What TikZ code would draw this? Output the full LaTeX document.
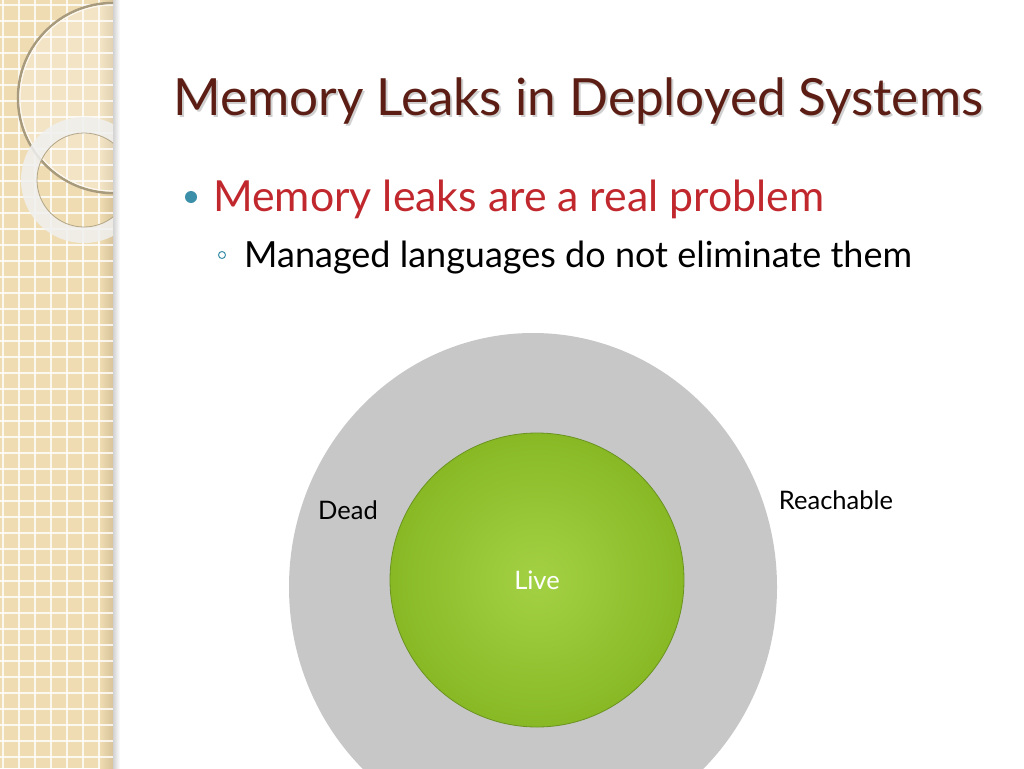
\documentclass[tikz,border=0pt]{standalone}
\usepackage{fontspec}
\setmainfont{Lato}
\usepackage{tikz}
\usetikzlibrary{shapes.geometric,positioning,shadings}
\usepackage{xcolor}

\definecolor{titlered}{HTML}{5C1E14}
\definecolor{bulletred}{HTML}{C1282E}
\definecolor{bulletteal}{HTML}{3B8FA9}
\definecolor{stripbeige}{HTML}{EFDCB2}
\definecolor{stripedge}{HTML}{D8C39A}
\definecolor{reachgray}{HTML}{C7C7C7}
\definecolor{livegreen}{HTML}{88B925}
\definecolor{livelight}{HTML}{A3D144}
\definecolor{liveedge}{HTML}{6A9320}

\tikzset{
  slidetext/.style={anchor=base west, inner sep=0pt},
  setlabel/.style={font=\fontsize{25.5}{29}\selectfont},
}

\begin{document}
\begin{tikzpicture}[x=1pt, y=-1pt]
    \clip (0,0) rectangle (1024,768);
    \fill[white] (0,0) rectangle (1024,768);

    % left strip with grid
    \fill[stripbeige] (0,0) rectangle (100,768);
    \shade[left color=stripbeige, right color=stripedge] (100,0) rectangle (113,768);
    \foreach \g in {3,19,...,112}
        \draw[white, opacity=0.8, line width=1.2pt] (\g,0) -- (\g,768);
    \foreach \g in {5,21,...,768}
        \draw[white, opacity=0.8, line width=1.2pt] (0,\g) -- (113,\g);
    \shade[left color=black!18, right color=white] (113,0) rectangle (120,768);

    % rings on the strip
    \begin{scope}
        \clip (0,0) rectangle (113,768);
        \fill[white, opacity=0.25] (113,98) circle[radius=95];
        \draw[black!30!stripbeige, line width=2.5pt] (113,98) circle[radius=95];
        \draw[white!80!stripbeige, line width=1.2pt] (113,98) circle[radius=93];
        \fill[black!6, opacity=0.85, even odd rule] (84,180) circle[radius=63] (84,180) circle[radius=47];
        \draw[black!25!stripbeige, line width=0.8pt] (84,180) circle[radius=47];
    \end{scope}

    % title
    \node[slidetext, text=black!30, opacity=0.6, font=\fontsize{51.3}{58}\selectfont] (titleshadow) at (175,117) {Memory Leaks in Deployed Systems};
    \node[slidetext, text=titlered, font=\fontsize{51.3}{58}\selectfont] (title) at (173,115) {Memory Leaks in Deployed Systems};

    % bullets
    \node[circle, fill=bulletteal, inner sep=0pt, minimum size=12pt] (dotone) at (191,197) {};
    \node[slidetext, text=bulletred, font=\fontsize{42.8}{48}\selectfont] (itemone) at (213,211) {Memory leaks are a real problem};
    \node[circle, draw=bulletteal, line width=1pt, inner sep=0pt, minimum size=7pt] (dottwo) at (222,255) {};
    \node[slidetext, font=\fontsize{36}{42}\selectfont] (itemtwo) at (244,267) {Managed languages do not eliminate them};

    % reachable set and live set
    \node[ellipse, fill=reachgray, minimum width=488pt, minimum height=508pt] (reach) at (533,587) {};
    \node[circle, shading=radial, inner color=livelight, outer color=livegreen, draw=liveedge, line width=0.8pt,
          minimum size=294pt, text=white, setlabel] (live) at (537,580) {Live};

    % labels
    \node[setlabel] (dead) at (348,510) {Dead};
    \node[setlabel] (reachable) at (836,500) {Reachable};
\end{tikzpicture}
\end{document}
